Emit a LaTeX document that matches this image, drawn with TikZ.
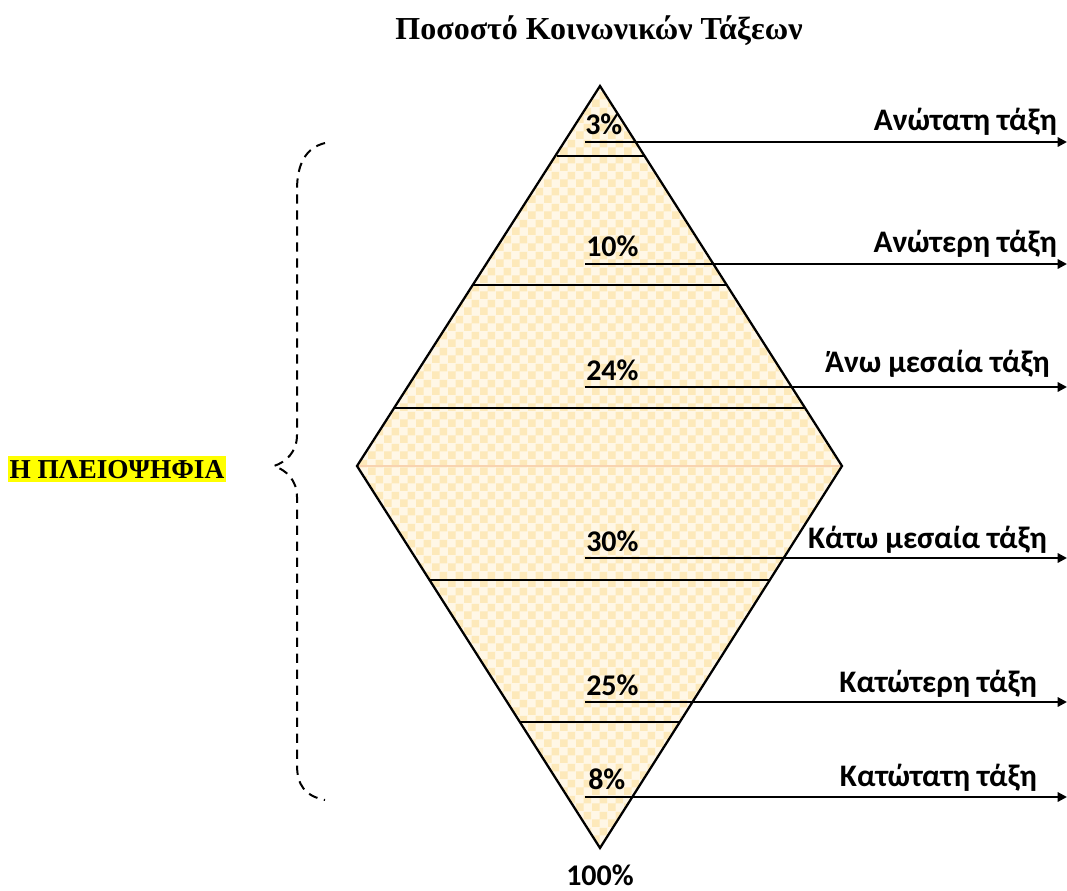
\documentclass[tikz,border=0pt]{standalone}
\usepackage{fontspec}
\setmainfont{Liberation Serif}
\newfontfamily\labelfont{Carlito}
\usetikzlibrary{arrows.meta,patterns}
\definecolor{cream}{HTML}{FFF7E6}
\definecolor{creamcheck}{HTML}{FDE9BA}
\definecolor{peach}{HTML}{F8D3B0}
\definecolor{hilite}{HTML}{FFFF00}
% large checkerboard tile for the diamond fill
\pgfdeclarepatternformonly{bigchecks}{\pgfpointorigin}{\pgfpoint{12pt}{12pt}}{\pgfpoint{12pt}{12pt}}{%
  \pgfpathrectangle{\pgfpointorigin}{\pgfpoint{6pt}{6pt}}%
  \pgfpathrectangle{\pgfpoint{6pt}{6pt}}{\pgfpoint{6pt}{6pt}}%
  \pgfusepath{fill}}
\tikzset{
  outline/.style={line width=1.7pt, line join=miter},
  band/.style={line width=1pt},
  pointer/.style={line width=1.6pt, -{Triangle[length=7pt,width=7pt]}},
  pct/.style={font=\labelfont\bfseries\fontsize{22.5}{26}\selectfont, anchor=base west, inner sep=0pt},
  cls/.style={font=\labelfont\bfseries\fontsize{23.5}{27}\selectfont, anchor=base east, inner sep=0pt},
  bracepath/.style={line width=1.5pt, dash pattern=on 7pt off 5pt},
}
\begin{document}
\begin{tikzpicture}[x=0.75pt,y=-0.75pt]
\useasboundingbox (0,0) rectangle (1067,891);

% vertices of the diamond
\coordinate (top) at (600,86);
\coordinate (left) at (357,466);
\coordinate (right) at (842,466);
\coordinate (bot) at (600,848);

% fill
\fill[cream] (top) -- (right) -- (bot) -- (left) -- cycle;
\fill[pattern=bigchecks, pattern color=creamcheck] (top) -- (right) -- (bot) -- (left) -- cycle;

% band dividers
\coordinate (a1) at (557,156); \coordinate (a2) at (645,156);
\coordinate (b1) at (473,285); \coordinate (b2) at (727,285);
\coordinate (c1) at (394,408); \coordinate (c2) at (806,408);
\coordinate (d1) at (430,580); \coordinate (d2) at (770,580);
\coordinate (e1) at (520,722); \coordinate (e2) at (680,722);
\draw[band] (a1) -- (a2);
\draw[band] (b1) -- (b2);
\draw[band] (c1) -- (c2);
\draw[band] (d1) -- (d2);
\draw[band] (e1) -- (e2);
\draw[peach, line width=0.8pt] (left) -- (right);

% outline
\draw[outline] (top) -- (right) -- (bot) -- (left) -- cycle;

% pointers to the class names
\foreach \n/\y in {p1/142, p2/264, p3/387, p4/558, p5/702, p6/797}{
  \coordinate (\n s) at (585,\y);
  \coordinate (\n e) at (1067,\y);
  \draw[pointer] (\n s) -- (\n e);
}

% percentages
\node[pct] (t1) at (585,135) {3\%};
\node[pct] (t2) at (586,257) {10\%};
\node[pct] (t3) at (586,380) {24\%};
\node[pct] (t4) at (586,551) {30\%};
\node[pct] (t5) at (586,695) {25\%};
\node[pct] (t6) at (588,789) {8\%};
\node[pct, anchor=base] (total) at (600,885) {100\%};

% class names
\node[cls] (n1) at (1057,131) {Ανώτατη τάξη};
\node[cls] (n2) at (1057,253) {Ανώτερη τάξη};
\node[cls] (n3) at (1050,372) {Άνω μεσαία τάξη};
\node[cls] (n4) at (1047,548) {Κάτω μεσαία τάξη};
\node[cls] (n5) at (1037,692) {Κατώτερη τάξη};
\node[cls] (n6) at (1037,786) {Κατώτατη τάξη};

% title
\node[font=\bfseries\fontsize{24}{28}\selectfont, anchor=base, inner sep=0pt] (title) at (599,40) {Ποσοστό Κοινωνικών Τάξεων};

% majority label
\node[font=\bfseries\fontsize{20.5}{24}\selectfont, anchor=base west, fill=hilite, inner xsep=1pt, inner ysep=3pt] (maj) at (8,478) {Η ΠΛΕΙΟΨΗΦΙΑ};

% dashed brace
\coordinate (bt) at (325,143);
\coordinate (bb) at (325,800);
\coordinate (tip) at (274,466);
\draw[bracepath] (bt) .. controls (305,148) and (297,165) .. (297,190) -- (297,435)
  .. controls (297,452) and (286,462) .. (tip)
  .. controls (286,470) and (297,480) .. (297,497) -- (297,765)
  .. controls (297,785) and (305,796) .. (bb);
\end{tikzpicture}
\end{document}
